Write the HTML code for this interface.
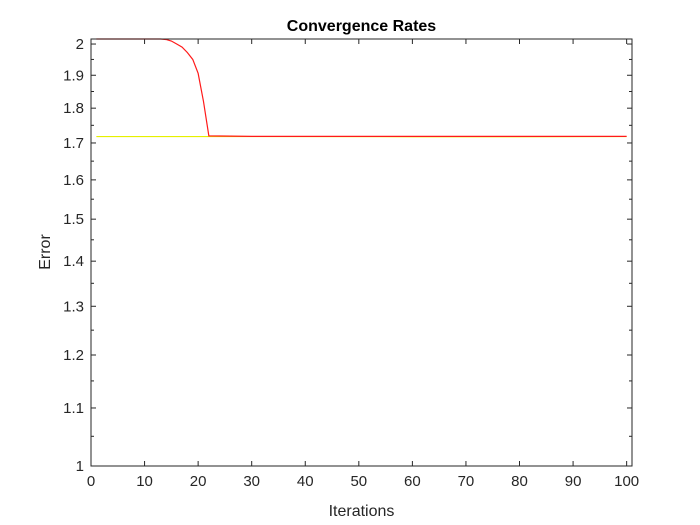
<!DOCTYPE html>
<html><head><meta charset="utf-8"><style>body{margin:0;background:#fff}svg{display:block;font-family:"Liberation Sans",Arial,sans-serif}</style></head>
<body>
<svg id="chart" width="700" height="525"></svg>
<script>
const xTicks=[0,10,20,30,40,50,60,70,80,90,100];
const yTicks=[1,1.1,1.2,1.3,1.4,1.5,1.6,1.7,1.8,1.9,2];
const redX=[1,13,14,15,16,17,18,19,20,21,22,30,100];
const redY=[2.0166,2.0166,2.015,2.01,2.0,1.99,1.972,1.95,1.906,1.82,1.72,1.7185,1.7185];
const yelX=[1,30,60,80,100];
const yelY=[1.718,1.718,1.7175,1.7175,1.718];
const L=91,R=632,T=39,B=466,xmax=101,ymin=1,ymax=2.0166;
const sx=v=>L+(v-0)/xmax*(R-L);
const sy=v=>B-(Math.log10(v)-Math.log10(ymin))/(Math.log10(ymax)-Math.log10(ymin))*(B-T);
const svg=document.getElementById('chart');const NS='http://www.w3.org/2000/svg';
function mk(t,a,p){const e=document.createElementNS(NS,t);for(const k in a)e.setAttribute(k,a[k]);(p||svg).appendChild(e);return e;}
let bg=mk('rect',{x:L,y:T,width:R-L,height:B-T,fill:'#fff'});


xTicks.forEach(v=>{const x=sx(v);
mk('line',{x1:x,x2:x,y1:B,y2:B-5,stroke:'#262626'});mk('line',{x1:x,x2:x,y1:T,y2:T+5,stroke:'#262626'});
const t=mk('text',{x:x,y:B+20,'text-anchor':'middle','font-size':15,fill:'#262626'});t.textContent=v;

});
yTicks.forEach(v=>{const y=sy(v);
mk('line',{x1:L,x2:L+5,y1:y,y2:y,stroke:'#262626'});mk('line',{x1:R,x2:R-5,y1:y,y2:y,stroke:'#262626'});
const t=mk('text',{x:L-7,y:y+5,'text-anchor':'end','font-size':15,fill:'#262626'});t.textContent=v;

});
for(let v=1.05;v<2.01;v+=0.1){const y=sy(v);mk('line',{x1:L,x2:L+3,y1:y,y2:y,stroke:'#262626'});mk('line',{x1:R,x2:R-3,y1:y,y2:y,stroke:'#262626'});}
function series(xs,ys,c,name){const d=xs.map((x,i)=>(i?'L':'M')+sx(x)+','+sy(ys[i])).join('');
const p=mk('path',{d:d,fill:'none',stroke:c,'stroke-width':1.2});

}
series(yelX,yelY,'#e6f000','series-yellow');
series(redX,redY,'#ff1a1a','series-red');
const box=mk('rect',{x:L,y:T,width:R-L,height:B-T,fill:'none',stroke:'#262626'});


const ti=mk('text',{x:(L+R)/2,y:31,'text-anchor':'middle','font-size':16,'font-weight':'bold',fill:'#000'});ti.textContent='Convergence Rates';


const xl=mk('text',{x:(L+R)/2,y:516,'text-anchor':'middle','font-size':16,fill:'#262626'});xl.textContent='Iterations';


const yl=mk('text',{x:0,y:0,transform:'translate(50,252) rotate(-90)','text-anchor':'middle','font-size':16,fill:'#262626'});yl.textContent='Error';


</script>
</body></html>
